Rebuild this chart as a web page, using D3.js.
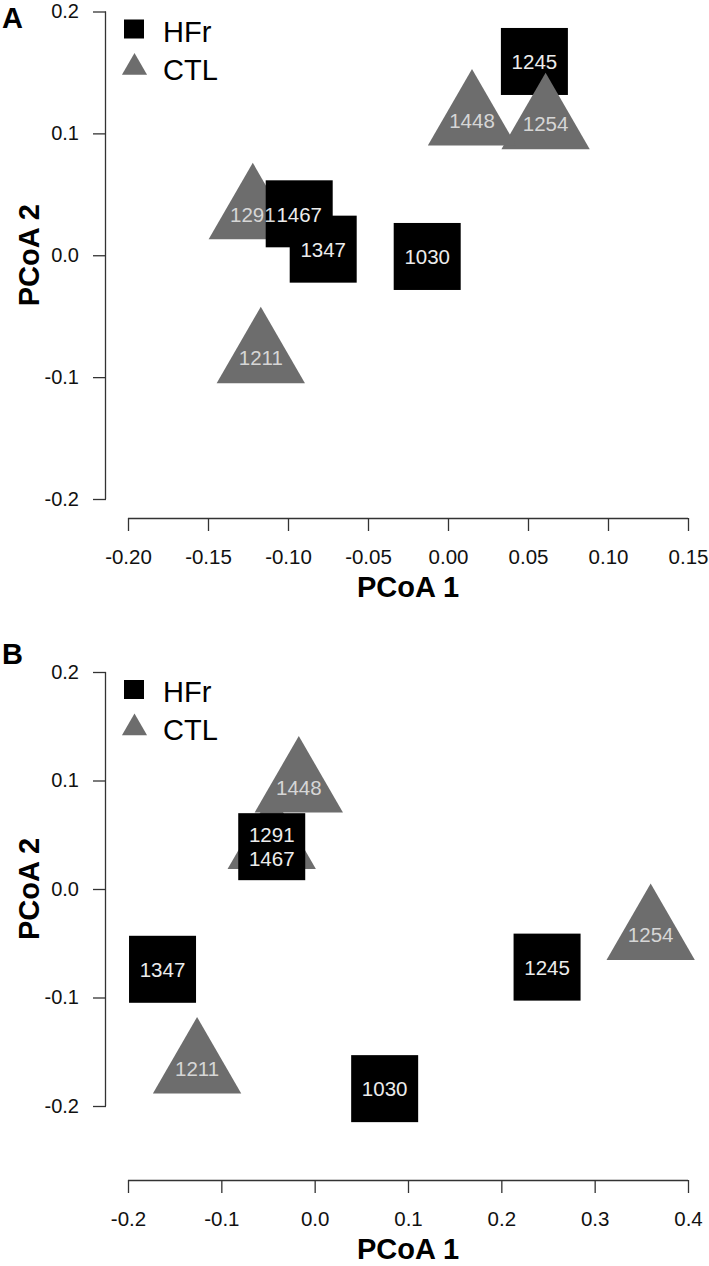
<!DOCTYPE html>
<html>
<head>
<meta charset="utf-8">
<script src="https://cdn.jsdelivr.net/npm/d3@7"></script>
<style>
  html, body { margin: 0; padding: 0; background: #fff; }
  svg { display: block; font-family: "Liberation Sans", Arial, Helvetica, sans-serif; }
</style>
</head>
<body>
<svg id="chart" width="709" height="1266"></svg>
<script>
// ---- data ----
const sampleIds = ["1030", "1211", "1245", "1254", "1291", "1347", "1448", "1467"];
const sampleGroups = ["HFr", "CTL", "HFr", "CTL", "CTL", "HFr", "CTL", "HFr"];

const pc1A = [-0.013, -0.117, 0.054, 0.061, -0.122, -0.078, 0.015, -0.093];
const pc2A = [-0.001, -0.084, 0.159, 0.108, 0.034, 0.005, 0.111, 0.034];
const labelsA = ["1030", "1211", "1245", "1254", "1291", "1347", "1448", "1467"];

const pc1B = [0.075, -0.126, 0.249, 0.360, -0.046, -0.163, -0.017, -0.046];
const pc2B = [-0.184, -0.165, -0.072, -0.042, 0.042, -0.074, 0.094, 0.039];
const labelsB = ["1030", "1211", "1245", "1254", "", "1347", "1448", "1291\n1467"];

const xTicksA = [-0.20, -0.15, -0.10, -0.05, 0.00, 0.05, 0.10, 0.15];
const xTicksB = [-0.2, -0.1, 0.0, 0.1, 0.2, 0.3, 0.4];
const yTicks = [-0.2, -0.1, 0.0, 0.1, 0.2];
const legendGroups = ["HFr", "CTL"];

// ---- styling ----
const fillColor = { HFr: "#000000", CTL: "#6d6d6d" };
const labelColor = { HFr: "#ececec", CTL: "#d6d6d6" };
const squareSide = 67;
const triR = 51; // circumradius of equilateral triangle

const svg = d3.select("#chart");

function triPath(cx, cy, r) {
  const h = r * Math.sqrt(3) / 2;
  return `M${cx},${cy - r}L${cx + h},${cy + r / 2}L${cx - h},${cy + r / 2}Z`;
}

function drawPanel(cfg) {
  const g = svg.append("g");
  const x = d3.scaleLinear().domain(cfg.xDomain).range([128, 688]);
  const y = d3.scaleLinear().domain([-0.2, 0.2]).range([cfg.yBottom, cfg.yTop]);

  // panel letter
  g.append("text").attr("x", 2).attr("y", cfg.letterY)
    .attr("font-size", 29).attr("font-weight", "bold").attr("fill", "#000")
    .text(cfg.letter);

  // y axis
  const yAxis = d3.axisLeft(y).tickValues(yTicks).tickSize(13).tickPadding(14)
    .tickFormat(d3.format(".1f"));
  const ya = g.append("g").attr("transform", `translate(106,0)`).call(yAxis);
  ya.select(".domain").attr("d", `M-0.5,${y(0.2)}V${y(-0.2)}`);
  ya.selectAll("path,line").attr("stroke", "#333").attr("stroke-width", 1.3);
  ya.selectAll("text").attr("font-size", 20).attr("fill", "#111")
    .attr("font-family", "Liberation Sans, Arial, sans-serif")
    .text(d => d3.format(".1f")(d).replace("−", "-"));

  // x axis
  const xAxis = d3.axisBottom(x).tickValues(cfg.xTicks).tickSize(13).tickPadding(18)
    .tickFormat(d3.format(cfg.xFormat));
  const axisY = cfg.yBottom + cfg.xAxisGap;
  const xa = g.append("g").attr("transform", `translate(0,${axisY})`).call(xAxis);
  xa.select(".domain").attr("d", `M128,0.5H688`);
  xa.selectAll("path,line").attr("stroke", "#333").attr("stroke-width", 1.3);
  xa.selectAll("text").attr("font-size", 20.5).attr("fill", "#111")
    .attr("font-family", "Liberation Sans, Arial, sans-serif")
    .text(d => d3.format(cfg.xFormat)(d).replace("−", "-"));

  // axis titles
  g.append("text").attr("x", 408).attr("y", axisY + 79)
    .attr("text-anchor", "middle").attr("font-size", 29).attr("font-weight", "bold")
    .text("PCoA 1");
  const ymid = (cfg.yTop + cfg.yBottom) / 2;
  g.append("text").attr("transform", `translate(39,${ymid}) rotate(-90)`)
    .attr("text-anchor", "middle").attr("font-size", 29).attr("font-weight", "bold")
    .text("PCoA 2");

  // legend
  const lg = g.append("g").attr("transform", `translate(0,${cfg.yTop})`);
  legendGroups.forEach((grp, i) => {
    if (grp === "HFr") {
      lg.append("rect").attr("x", 124).attr("y", 8).attr("width", 20).attr("height", 19)
        .attr("fill", fillColor.HFr);
    } else {
      lg.append("path").attr("d", triPath(134.5, 56, 14.5)).attr("fill", fillColor.CTL);
    }
    lg.append("text").attr("x", 163).attr("y", 30 + i * 38)
      .attr("font-size", 29).attr("fill", "#000").text(grp);
  });

  // points
  const data = sampleIds.map((id, i) => ({
    id, group: sampleGroups[i], x: cfg.pc1[i], y: cfg.pc2[i], label: cfg.labels[i]
  }));
  const pts = g.append("g");
  data.forEach(d => {
    const cx = x(d.x), cy = y(d.y);
    if (d.group === "HFr") {
      pts.append("rect").attr("x", cx - squareSide / 2).attr("y", cy - squareSide / 2)
        .attr("width", squareSide).attr("height", squareSide).attr("fill", fillColor.HFr);
    } else {
      pts.append("path").attr("d", triPath(cx, cy, triR)).attr("fill", fillColor.CTL);
    }
  });
  const lbl = g.append("g");
  data.forEach(d => {
    if (!d.label) return;
    const cx = x(d.x), cy = y(d.y);
    const lines = d.label.split("\n");
    const n = lines.length;
    lines.forEach((ln, j) => {
      lbl.append("text").attr("x", cx).attr("y", cy + (j - (n - 1) / 2) * 24)
        .attr("dy", "0.38em").attr("text-anchor", "middle")
        .attr("font-size", 20.5).attr("fill", labelColor[d.group]).text(ln);
    });
  });
}

drawPanel({
  letter: "A", letterY: 28, yTop: 11.5, yBottom: 499, xAxisGap: 19,
  xDomain: [-0.20, 0.15], xTicks: xTicksA, xFormat: ".2f",
  pc1: pc1A, pc2: pc2A, labels: labelsA
});
drawPanel({
  letter: "B", letterY: 664, yTop: 672, yBottom: 1106, xAxisGap: 74,
  xDomain: [-0.2, 0.4], xTicks: xTicksB, xFormat: ".1f",
  pc1: pc1B, pc2: pc2B, labels: labelsB
});
</script>
</body>
</html>
